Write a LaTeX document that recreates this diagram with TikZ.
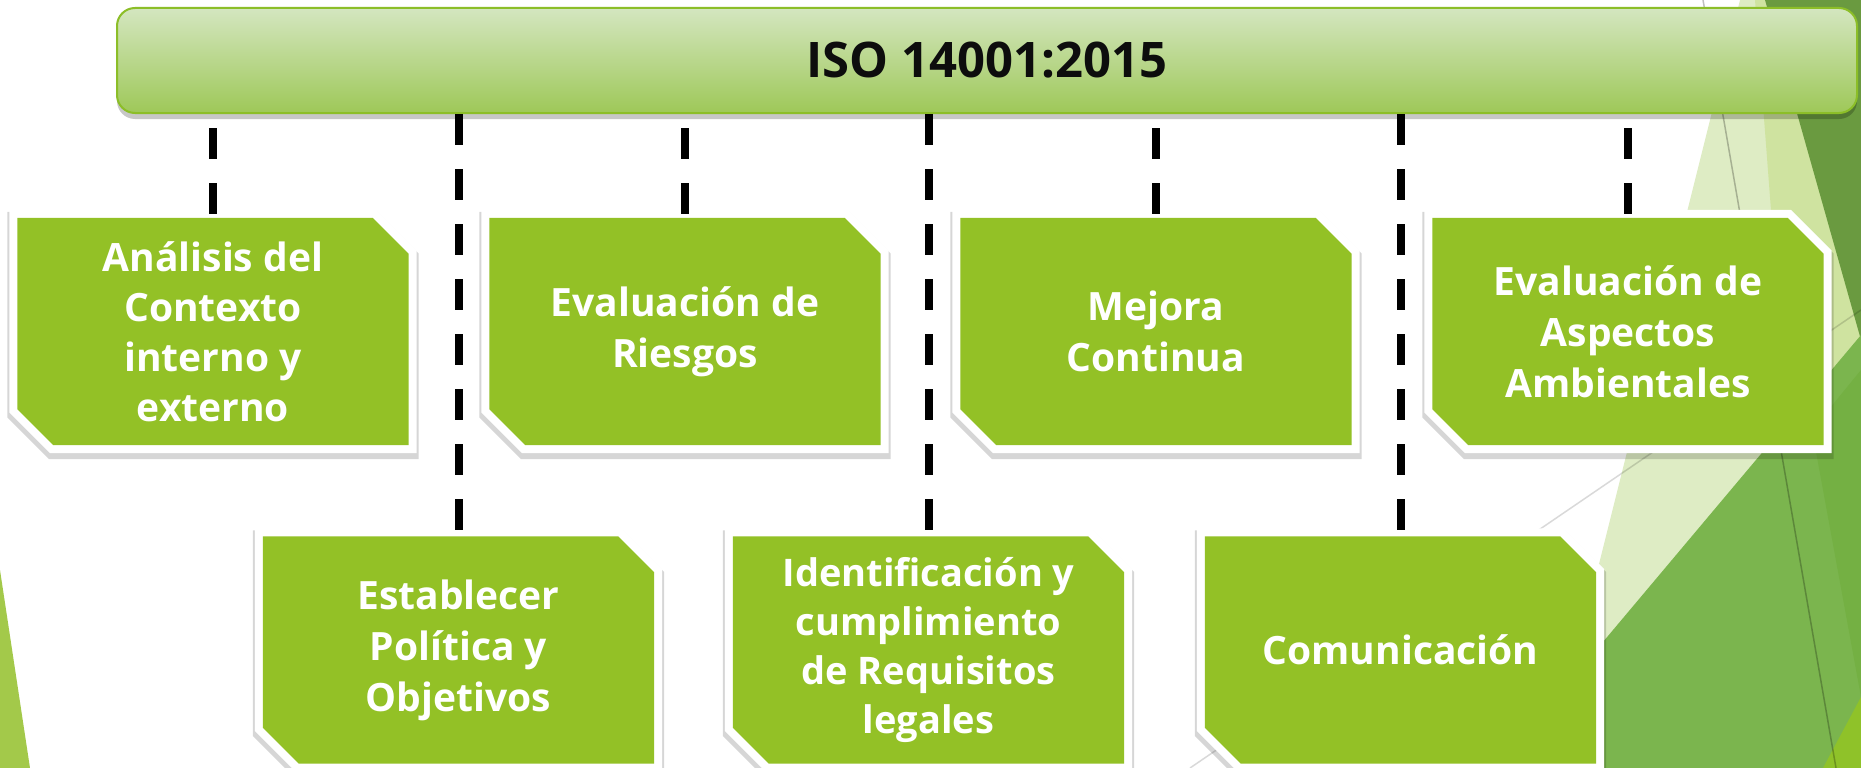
\documentclass[tikz,border=0pt]{standalone}
\usepackage{fontspec}
\setmainfont{Open Sans}
\usetikzlibrary{backgrounds}

\definecolor{cardgreen}{RGB}{147,193,38}
\definecolor{bannertop}{RGB}{212,230,192}
\definecolor{bannerbot}{RGB}{158,200,88}
\definecolor{bannerline}{RGB}{140,190,40}
\definecolor{isotext}{RGB}{13,13,13}
\definecolor{facetpale}{RGB}{222,236,196}
\definecolor{facetlight}{RGB}{207,227,160}
\definecolor{facetdark}{RGB}{106,154,64}
\definecolor{facetmid}{RGB}{123,181,78}
\definecolor{facetdeep}{RGB}{116,176,67}
\definecolor{facetbright}{RGB}{143,194,41}
\definecolor{facetleft}{RGB}{163,201,74}

\tikzset{
  card/.style={rectangle, minimum width=391pt, minimum height=227pt, inner sep=0pt,
    text=white, align=center, font=\bfseries\fontsize{39}{51}\selectfont},
  cardface/.style={fill=cardgreen,
    preaction={draw=black, line width=20pt, draw opacity=0.16, transform canvas={yshift=-4pt}},
    preaction={draw=white, line width=16pt}},
  banner/.style={rectangle, rounded corners=18pt, minimum width=1740pt, minimum height=105pt,
    top color=bannertop, bottom color=bannerbot, draw=bannerline, line width=2pt,
    text=isotext, font=\bfseries\fontsize{49}{56}\selectfont,
    preaction={fill=black, fill opacity=0.22, transform canvas={yshift=-6pt}}},
  link/.style={line width=8pt, dash pattern=on 31pt off 24pt},
}

\begin{document}
\begin{tikzpicture}[x=1pt,y=-1pt]
  \useasboundingbox (0,0) rectangle (1861,768);
  % banner
  \node[banner] (iso) at (987,60.5) {ISO 14001:2015};
  % upper row
  \node[card, font=\bfseries\fontsize{39}{50}\selectfont] (analisis) at (213,331.5) {Análisis del\\Contexto\\interno y\\externo};
  \node[card] (riesgos) at (685,331.5) {Evaluación de\\Riesgos};
  \node[card] (mejora) at (1156,331.5) {Mejora\\Continua};
  \node[card] (aspectos) at (1628,331.5) {Evaluación de\\Aspectos\\Ambientales};
  % lower row
  \node[card] (politica) at (458.5,650) {Establecer\\Política y\\Objetivos};
  \node[card, font=\bfseries\fontsize{38}{49}\selectfont] (requisitos) at (928.5,650) {Identificación y\\cumplimiento\\de Requisitos\\legales};
  \node[card] (comunicacion) at (1400.5,650) {Comunicación};
  % dashed links
  \draw[link, dash phase=41pt] (analisis.north |- iso.south) -- (analisis.north);
  \draw[link, dash phase=41pt] (riesgos.north |- iso.south) -- (riesgos.north);
  \draw[link, dash phase=41pt] (mejora.north |- iso.south) -- (mejora.north);
  \draw[link, dash phase=41pt] (aspectos.north |- iso.south) -- (aspectos.north);
  \draw[link] (politica.north |- iso.south) -- (politica.north);
  \draw[link] (requisitos.north |- iso.south) -- (requisitos.north);
  \draw[link] (comunicacion.north |- iso.south) -- (comunicacion.north);
  \begin{scope}[on background layer]
    \fill[white] (0,0) rectangle (1861,768);
    % background facets
    \fill[facetleft] (0,570) -- (30,768) -- (0,768) -- cycle;
    \fill[facetpale] (1740,0) -- (1861,0) -- (1861,768) -- (1548,768) -- cycle;
    \fill[facetlight] (1755,0) -- (1861,0) -- (1861,500) -- (1790,460) -- cycle;
    \fill[facetdark] (1765,0) -- (1861,0) -- (1861,340) -- cycle;
    \fill[facetmid] (1861,335) -- (1861,768) -- (1497,768) -- cycle;
    \fill[facetdeep] (1812,430) -- (1861,370) -- (1861,697) -- cycle;
    \fill[facetbright] (1861,697) -- (1861,768) -- (1823,768) -- cycle;
    \draw[black, opacity=0.25, line width=1.5pt] (1703,0) -- (1836,768);
    \draw[black, opacity=0.15, line width=1.5pt] (1190,768) -- (1861,310);
    % card faces with cut corners
    \foreach \n in {analisis,riesgos,mejora,aspectos,politica,requisitos,comunicacion}
      \fill[cardface] (\n.north west) -- ([xshift=-36pt]\n.north east)
        -- ([yshift=-36pt]\n.north east) -- (\n.south east)
        -- ([xshift=36pt]\n.south west) -- ([yshift=36pt]\n.south west) -- cycle;
  \end{scope}
\end{tikzpicture}
\end{document}
